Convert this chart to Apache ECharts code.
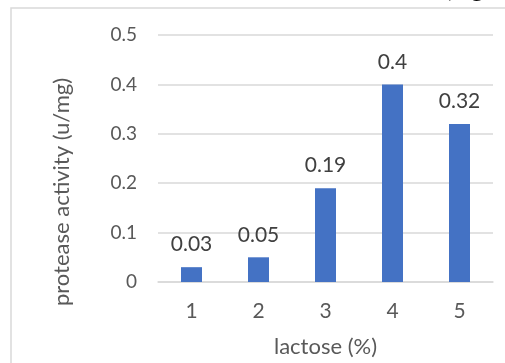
<!DOCTYPE html>
<html>
<head>
<meta charset="utf-8">
<script src="https://cdn.jsdelivr.net/npm/echarts@6/dist/echarts.min.js"></script>
<style>
  html, body { margin: 0; padding: 0; background: #ffffff; }
  #chart { width: 505px; height: 363px; }
</style>
</head>
<body>
<div id="chart"></div>
<script>
// Lactose concentration (%) vs. protease activity (u/mg)
const categories = ['1', '2', '3', '4', '5'];
const activity = [0.03, 0.05, 0.19, 0.4, 0.32];
const yTicks = { min: 0, max: 0.5, interval: 0.1 };

const FONT = 'Lato, "Open Sans", sans-serif';
const chart = echarts.init(document.getElementById('chart'), null, { renderer: 'canvas' });

chart.setOption({
  backgroundColor: '#ffffff',
  animation: false,
  grid: { left: 158, right: 12, top: 35, bottom: 81 },
  graphic: [
    {
      type: 'rect',
      shape: { x: 11, y: 8, width: 600, height: 400 },
      style: { fill: 'none', stroke: '#d9d9d9', lineWidth: 1.5 },
      silent: true
    },
    {
      type: 'text',
      x: 443, y: -22,
      style: { text: '(Fig', font: '24px "Liberation Serif", serif', fill: '#000000' },
      silent: true
    },
    {
      type: 'text',
      x: 62, y: 192,
      rotation: Math.PI / 2,
      style: {
        text: 'protease activity (u/mg)',
        font: '22px ' + FONT,
        fill: '#595959',
        textAlign: 'center',
        textVerticalAlign: 'middle'
      },
      silent: true
    }
  ],
  xAxis: {
    type: 'category',
    data: categories,
    axisLine: { lineStyle: { color: '#d9d9d9', width: 1.5 } },
    axisTick: { show: false },
    axisLabel: { color: '#595959', fontSize: 21, fontFamily: FONT, margin: 19 },
    name: 'lactose (%)',
    nameLocation: 'middle',
    nameGap: 54,
    nameTextStyle: { color: '#595959', fontSize: 22, fontFamily: FONT }
  },
  yAxis: {
    type: 'value',
    min: yTicks.min,
    max: yTicks.max,
    interval: yTicks.interval,
    axisLine: { show: false },
    axisTick: { show: false },
    axisLabel: { color: '#595959', fontSize: 19, fontFamily: FONT, margin: 21 },
    splitLine: { lineStyle: { color: '#d9d9d9', width: 1.5 } }
  },
  series: [{
    type: 'bar',
    data: activity,
    barWidth: 21,
    itemStyle: { color: '#4472c4' },
    label: {
      show: true,
      position: 'top',
      distance: 12,
      color: '#404040',
      fontSize: 21,
      fontFamily: FONT
    }
  }]
});
</script>
</body>
</html>
